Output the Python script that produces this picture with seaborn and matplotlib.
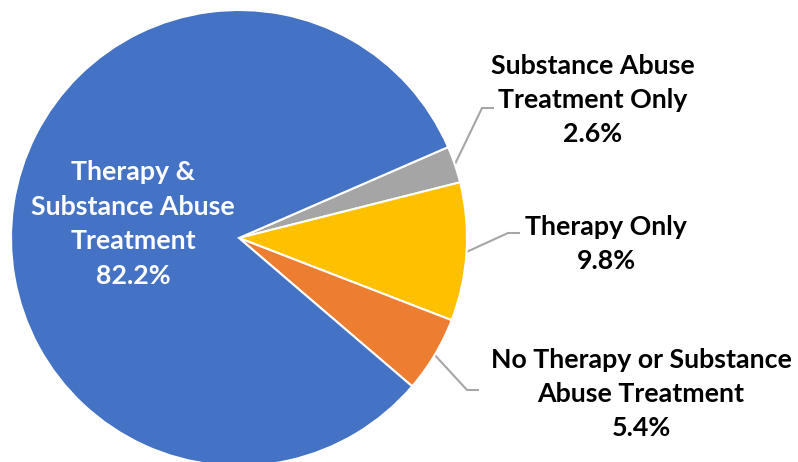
import numpy as np
import matplotlib
matplotlib.use("Agg")
import matplotlib.pyplot as plt
import seaborn as sns

# Data
categories = ["Substance Abuse\nTreatment Only", "Therapy Only",
              "No Therapy or Substance\nAbuse Treatment", "Therapy &\nSubstance Abuse\nTreatment"]
values = [2.6, 9.8, 5.4, 82.2]
colors = ["#A5A5A5", "#FFC000", "#ED7D31", "#4472C4"]

sns.set_theme(style="white")
plt.rcParams['font.family'] = ['Lato', 'DejaVu Sans']

W, H = 798, 462
fig = plt.figure(figsize=(W / 100, H / 100), dpi=100)
ax = fig.add_axes([0, 0, 1, 1])

cx, cy, R = 239, H - 238, 228
start = 23.5
wedges, _ = ax.pie(values, colors=colors, startangle=start, counterclock=False,
                   center=(cx, cy), radius=R, frame=True,
                   wedgeprops=dict(edgecolor="white", linewidth=1.5))
ax.set_xlim(0, W)
ax.set_ylim(0, H)
ax.axis("off")

fs = 19.3
# label positions (pixel coords, y from top)
label_pos = [(593, 100), (606, 244), (641, 394), (133, 224)]
text_colors = ["black", "black", "black", "white"]
for cat, v, (lx, ly), tc in zip(categories, values, label_pos, text_colors):
    ax.text(lx, H - ly, f"{cat}\n{v:.1f}%", ha="center", va="center",
            fontsize=fs, fontweight="bold", color=tc, linespacing=1.52)

# leader lines
elbows = [((482, 108), (494, 108)), ((508, 233), (520, 233)), ((467, 390), (479, 390))]
cum = np.cumsum([0] + values)
for i, (e1, e2) in enumerate(elbows):
    mid = np.deg2rad(start - 360 * (cum[i] + values[i] / 2) / 100)
    x0 = cx + R * np.cos(mid)
    y0 = cy + R * np.sin(mid)
    ax.plot([x0, e1[0], e2[0]], [y0, H - e1[1], H - e2[1]], color="#A6A6A6", lw=1.5,
            solid_capstyle="butt", zorder=0)

fig.savefig("out.png", dpi=100)
